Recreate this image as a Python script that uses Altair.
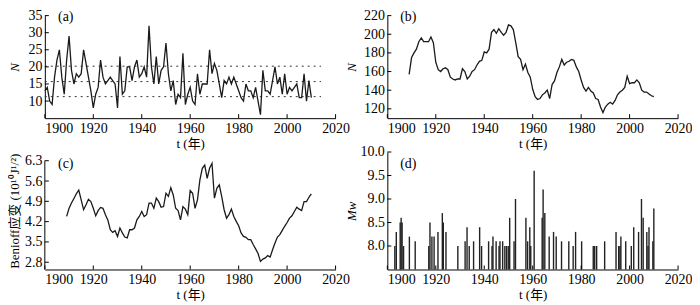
import altair as alt
import pandas as pd

# ---------------- data ----------------
years_a = list(range(1900, 2011))
n_a = [13, 14, 10, 9, 17, 22, 25, 17, 12, 22,
       29, 19, 15, 18, 17, 18, 25, 21, 17, 13,
       8, 12, 14, 22, 17, 15, 16, 17, 16, 15,
       8, 23, 12, 13, 20, 20, 16, 20, 22, 17,
       18, 20, 17, 32, 20, 15, 23, 15, 19, 20,
       27, 18, 13, 16, 9, 12, 11, 24, 9, 12,
       14, 10, 9, 18, 12, 15, 15, 15, 25, 18,
       21, 19, 15, 11, 16, 15, 17, 15, 17, 15,
       13, 11, 10, 15, 13, 13, 11, 14, 10, 6,
       19, 13, 13, 12, 16, 20, 15, 17, 12, 18,
       12, 14, 13, 14, 15, 11, 11, 18, 10, 16, 11]
ref_levels_a = [20.2, 15.7, 11.3]
ref_start_a = 1900
ref_end_a = 2014

years_b = list(range(1909, 2011))
n_b = [157, 175, 180, 184, 192, 196, 192, 192, 192, 197,
       191, 170, 162, 160, 163, 164, 162, 154, 152, 151,
       152, 152, 163, 160, 152, 155, 160, 162, 167, 171,
       172, 181, 180, 184, 202, 205, 201, 206, 202, 199,
       202, 210, 209, 205, 191, 176, 173, 162, 168, 159,
       154, 141, 133, 130, 131, 135, 137, 140, 131, 146,
       150, 159, 165, 173, 167, 170, 171, 173, 172, 165,
       160, 151, 143, 139, 143, 139, 137, 131, 130, 122,
       116, 122, 125, 127, 125, 129, 135, 138, 140, 143,
       155, 147, 148, 148, 151, 148, 140, 138, 138, 136,
       134, 133]

years_c = list(range(1909, 2011))
benioff_c = [4.38, 4.66, 4.84, 5.00, 5.16, 5.29, 4.95, 4.61, 4.78, 4.97,
             4.89, 4.66, 4.40, 4.58, 4.69, 4.66, 4.44, 4.26, 3.92, 3.83,
             3.89, 3.69, 3.98, 3.81, 3.67, 3.64, 3.92, 3.92, 3.98, 4.26,
             4.38, 4.55, 4.38, 4.44, 4.84, 4.84, 4.66, 5.01, 4.89, 4.70,
             4.72, 5.18, 5.07, 5.37, 5.12, 4.66, 4.58, 4.26, 4.72, 4.63,
             4.44, 5.27, 5.18, 4.66, 4.95, 5.64, 6.04, 6.15, 5.69, 6.04,
             6.21, 5.01, 5.35, 5.47, 5.07, 4.61, 4.32, 4.44, 4.63, 4.38,
             4.21, 4.06, 3.81, 3.69, 3.66, 3.58, 3.58, 3.41, 3.26, 3.10,
             2.83, 2.91, 2.95, 3.03, 2.98, 3.23, 3.46, 3.67, 3.75, 3.90,
             4.04, 4.17, 4.32, 4.40, 4.55, 4.70, 4.63, 4.58, 4.89, 4.89,
             5.04, 5.16]

years_d = [1903.1, 1903.7, 1905.3, 1905.7, 1906.1, 1906.7, 1909.1, 1911.5,
           1917.1, 1917.6, 1918.4, 1919.3, 1920.9, 1922.7, 1923.1, 1924.2,
           1929.1, 1932.1, 1932.9, 1933.8, 1935.6, 1938.1, 1938.9, 1941.8,
           1943.2, 1943.6, 1944.9, 1946.1, 1946.5, 1947.6, 1948.5, 1949.2,
           1949.9, 1950.5, 1952.3, 1952.9, 1957.2, 1957.9, 1958.8, 1959.2,
           1960.6, 1963.9, 1964.3, 1965.0, 1966.8, 1968.6, 1969.7, 1971.9,
           1974.9, 1976.7, 1977.7, 1980.2, 1985.0, 1985.6, 1986.4, 1989.7,
           1994.4, 1995.5, 1996.0, 1996.4, 1998.4, 2000.7, 2001.7, 2003.7,
           2004.9, 2005.6, 2007.1, 2007.6, 2008.0, 2009.6, 2010.0]
mw_d = [8.0, 8.3, 8.5, 8.6, 8.5, 8.0, 8.2, 8.1,
        8.0, 8.5, 8.2, 8.2, 8.3, 8.7, 8.5, 8.3,
        8.0, 8.1, 8.4, 8.0, 8.1, 8.4, 8.0, 8.1,
        8.0, 8.2, 8.1, 8.0, 8.1, 8.1, 8.0, 8.0,
        8.0, 8.6, 8.1, 9.0, 8.6, 8.1, 8.4, 8.0,
        9.6, 8.6, 9.2, 8.7, 8.2, 8.3, 8.2, 8.1,
        8.1, 8.0, 8.3, 8.1, 8.0, 8.0, 8.0, 8.1,
        8.3, 8.0, 8.0, 8.2, 8.1, 8.0, 8.4, 8.3,
        9.0, 8.6, 8.3, 8.0, 8.4, 8.1, 8.8]

x_ticks = [1900, 1920, 1940, 1960, 1980, 2000, 2020]
y_ticks_a = [10, 15, 20, 25, 30, 35]
y_ticks_b = [120, 140, 160, 180, 200, 220]
y_ticks_c = [2.8, 3.5, 4.2, 4.9, 5.6, 6.3]
y_ticks_d = [8.0, 8.5, 9.0, 9.5, 10.0]

dom_a = [5, 35]
dom_b = [110, 220]
dom_c = [2.55, 6.60]
dom_d = [7.5, 10.0]

# ---------------- style ----------------
FONT = "Liberation Serif, Noto Sans CJK SC, serif"
FS = 14
W, H1, H2 = 292, 103, 118
LINE = "#1a1a1a"

xs = alt.Scale(domain=[1900, 2020], nice=False, zero=False)


def xenc(field="year"):
    return alt.X(f"{field}:Q", scale=xs, axis=alt.Axis(
        values=x_ticks, format="d", ticks=False, grid=False,
        domainColor="black", domainWidth=1,
        labelFont=FONT, labelFontSize=FS, labelColor="black", labelPadding=3,
        labelFlush=False, labelOverlap=False,
        labelAlign={"expr": "datum.value == 1900 ? 'left' : 'center'"},
        title="t (年)", titleFont=FONT, titleFontSize=13, titleFontWeight="normal",
        titleColor="black", titlePadding=2))


def yenc(field, dom, vals, fmt, title, style, tx, show_domain=True):
    return alt.Y(f"{field}:Q", scale=alt.Scale(domain=dom, nice=False, zero=False),
                 axis=alt.Axis(values=vals, format=fmt, ticks=False, grid=False,
                               domain=show_domain, domainColor="black", domainWidth=1,
                               labelFont=FONT, labelFontSize=FS, labelColor="black",
                               labelPadding=3, labelOverlap=False,
                               title=title, titleFont=FONT, titleFontSize=13,
                               titleFontStyle=style, titleFontWeight="normal",
                               titleColor="black", titleX=tx, titlePadding=2))


def extras(field, Y, yvals, height, label, label_y):
    xt = alt.Chart(pd.DataFrame({"year": x_ticks})).mark_rule(
        color="black", strokeWidth=1).encode(
        x=xenc(), y=alt.value(height), y2=alt.value(height - 4))
    yt = alt.Chart(pd.DataFrame({field: yvals})).mark_rule(
        color="black", strokeWidth=1).encode(
        y=Y, x=alt.value(0), x2=alt.value(4))
    txt = alt.Chart(pd.DataFrame({"lab": [label]})).mark_text(
        font=FONT, fontSize=14, color="black", align="center", baseline="middle"
    ).encode(text="lab:N", x=alt.value(21), y=alt.value(label_y))
    return [xt, yt, txt]


# (a)
Ya = yenc("n", dom_a, y_ticks_a, "d", "N", "italic", -23)
df_a = pd.DataFrame({"year": years_a, "n": n_a})
line_a = alt.Chart(df_a).mark_line(color=LINE, strokeWidth=1.3).encode(x=xenc(), y=Ya)
df_ref = pd.DataFrame({"n": ref_levels_a,
                       "year": [ref_start_a] * len(ref_levels_a),
                       "year_end": [ref_end_a] * len(ref_levels_a)})
ref_a = alt.Chart(df_ref).mark_rule(color="#333333", strokeWidth=1, strokeDash=[2, 4]).encode(
    x=xenc(), x2="year_end:Q", y=Ya)
p_a = alt.layer(ref_a, line_a, *extras("n", Ya, y_ticks_a, H1, "(a)", 1)).properties(width=W, height=H1)

# (b)
Yb = yenc("n", dom_b, y_ticks_b, "d", "N", "italic", -29)
df_b = pd.DataFrame({"year": years_b, "n": n_b})
line_b = alt.Chart(df_b).mark_line(color=LINE, strokeWidth=1.3).encode(x=xenc(), y=Yb)
p_b = alt.layer(line_b, *extras("n", Yb, y_ticks_b, H1, "(b)", 1)).properties(width=W, height=H1)

# (c)
Yc = yenc("benioff", dom_c, y_ticks_c, ".1f", "Benioff应变 (10¹⁰J¹/²)", "normal", -23, show_domain=False)
df_c = pd.DataFrame({"year": years_c, "benioff": benioff_c})
line_c = alt.Chart(df_c).mark_line(color=LINE, strokeWidth=1.3).encode(x=xenc(), y=Yc)
axis_c = alt.Chart(pd.DataFrame({"benioff": [dom_c[0]], "top": [y_ticks_c[-1]]})).mark_rule(
    color="black", strokeWidth=1).encode(x=alt.value(0), y=Yc, y2="top:Q")
p_c = alt.layer(axis_c, line_c, *extras("benioff", Yc, y_ticks_c, H2, "(c)", 12)).properties(width=W, height=H2)

# (d)
Yd = yenc("mw", dom_d, y_ticks_d, ".1f", "Mw", "italic", -29)
df_d = pd.DataFrame({"year": years_d, "mw": mw_d})
bars_d = alt.Chart(df_d).mark_rule(color="#222222", strokeWidth=1.4).encode(
    x=xenc(), y=Yd, y2=alt.datum(dom_d[0]))
p_d = alt.layer(bars_d, *extras("mw", Yd, y_ticks_d, H2, "(d)", 12)).properties(width=W, height=H2)

chart = alt.concat(p_a, p_b, p_c, p_d, columns=2,
                   spacing={"row": 34, "column": 52}, bounds="flush").properties(
    padding=0).configure_view(stroke=None)

chart.save("out.html", embed_options={"renderer": "svg", "actions": False})
